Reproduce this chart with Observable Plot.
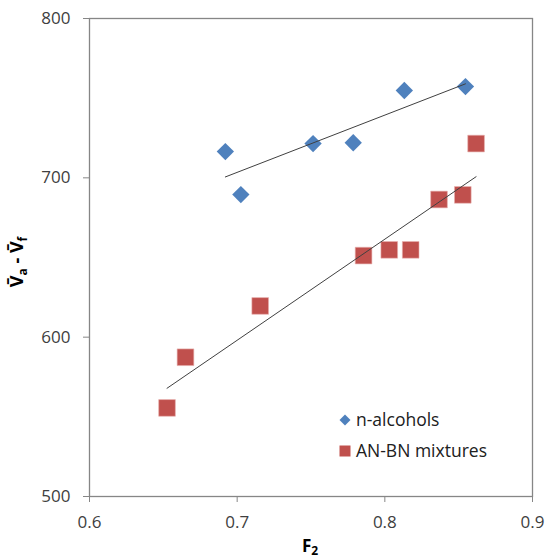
<!DOCTYPE html>
<html>
<head>
<meta charset="utf-8">
<script src="https://cdn.jsdelivr.net/npm/d3@7"></script>
<script src="https://cdn.jsdelivr.net/npm/@observablehq/plot@0.6"></script>
<style>
  html, body { margin: 0; padding: 0; background: #fff; }
  #chart { width: 548px; height: 559px; }
</style>
</head>
<body>
<div id="chart"></div>
<script>
const alcF2 = [0.692, 0.7025, 0.7514, 0.7786, 0.8132, 0.8546];
const alcV  = [716.5, 689.5, 721.5, 722, 754.8, 757.3];
const mixF2 = [0.6525, 0.665, 0.7156, 0.7856, 0.803, 0.8175, 0.8367, 0.8528, 0.8618];
const mixV  = [555.6, 587.4, 619.6, 651.2, 654.8, 654.8, 686.4, 689.3, 721.5];
const xTicks = [0.6, 0.7, 0.8, 0.9];
const yTicks = [500, 600, 700, 800];
const seriesNames = ["n-alcohols", "AN-BN mixtures"];
const seriesColors = ["#4F81BD", "#C0504D"];

const alc = alcF2.map((x, i) => ({x, y: alcV[i], s: seriesNames[0]}));
const mix = mixF2.map((x, i) => ({x, y: mixV[i], s: seriesNames[1]}));

const gray = "#868686";
const plot = Plot.plot({
  width: 548,
  height: 559,
  marginLeft: 89,
  marginRight: 16,
  marginTop: 18,
  marginBottom: 63,
  style: {fontFamily: "'Open Sans', sans-serif", fontSize: "17px", color: "#404040", background: "#fff"},
  x: {domain: [0.6, 0.9]},
  y: {domain: [500, 800]},
  marks: [
    Plot.axisX({ticks: xTicks, tickFormat: d3.format(".1f"), tickSize: 6, tickPadding: 13, stroke: gray, label: null}),
    Plot.axisY({ticks: yTicks, tickSize: 6, tickPadding: 13, stroke: gray, label: null}),
    Plot.frame({stroke: gray, strokeWidth: 1.3}),
    Plot.dot(alc, {x: "x", y: "y", symbol: "diamond2", r: 7.8, fill: seriesColors[0], stroke: "none"}),
    Plot.dot(mix, {x: "x", y: "y", symbol: "square", r: 9.4, fill: seriesColors[1], stroke: "#e8b0ae", strokeWidth: 0.6}),
    Plot.linearRegressionY(alc, {x: "x", y: "y", stroke: "#404040", strokeWidth: 1, ci: 0}),
    Plot.linearRegressionY(mix, {x: "x", y: "y", stroke: "#404040", strokeWidth: 1, ci: 0})
  ]
});
document.getElementById("chart").appendChild(plot);

const svg = d3.select(plot);
// legend
const legend = svg.append("g")
  .attr("font-family", "'Open Sans', sans-serif")
  .attr("font-size", 17.5)
  .attr("text-anchor", "start")
  .attr("fill", "#202020");
const syms = [d3.symbolDiamond2, d3.symbolSquare];
const sizes = [77, 121];
seriesNames.forEach((name, i) => {
  const cy = 420 + i * 31;
  legend.append("path")
    .attr("d", d3.symbol(syms[i], sizes[i])())
    .attr("transform", `translate(${345},${cy})`)
    .attr("fill", seriesColors[i]);
  legend.append("text").attr("x", 356).attr("y", cy + 6).text(name);
});

// axis titles
const yl = svg.append("text")
  .attr("transform", "translate(23,262) rotate(-90)")
  .attr("text-anchor", "middle")
  .attr("font-family", "'Open Sans', sans-serif")
  .attr("font-weight", "bold")
  .attr("font-size", 18)
  .attr("fill", "#000");
yl.append("tspan").text("V\u0304");
yl.append("tspan").attr("font-size", 12).attr("dy", 4).text("a");
yl.append("tspan").attr("dy", -4).text(" - V\u0304");
yl.append("tspan").attr("font-size", 12).attr("dy", 4).text("f");

const xl = svg.append("text")
  .attr("x", 310).attr("y", 552)
  .attr("text-anchor", "middle")
  .attr("font-family", "'Open Sans', sans-serif")
  .attr("font-weight", "bold")
  .attr("font-size", 17)
  .attr("fill", "#000");
xl.append("tspan").text("F");
xl.append("tspan").attr("font-size", 12).attr("dy", 3).text("2");
</script>
</body>
</html>
